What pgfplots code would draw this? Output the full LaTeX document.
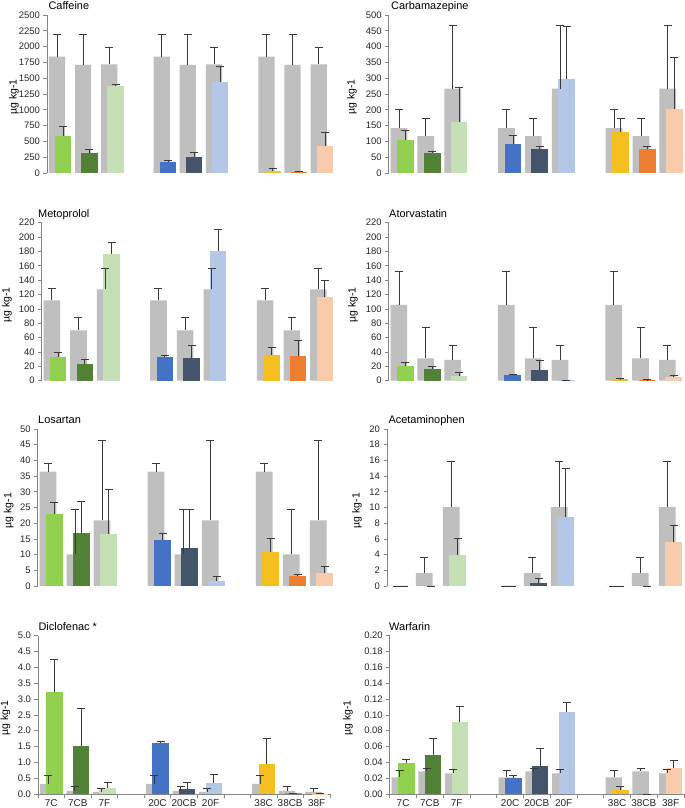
\documentclass[border=0pt]{standalone}
\usepackage{fontspec}
\setmainfont{Liberation Sans}
\usepackage{pgfplots}
\usepackage{pgfplotstable}
\pgfplotsset{compat=1.18}

\definecolor{gbar}{HTML}{BFBFBF}
\definecolor{cA}{HTML}{92D050}
\definecolor{cB}{HTML}{538135}
\definecolor{cC}{HTML}{C5E0B4}
\definecolor{cD}{HTML}{4472C4}
\definecolor{cE}{HTML}{44546A}
\definecolor{cF}{HTML}{B4C7E7}
\definecolor{cG}{HTML}{F5BF1F}
\definecolor{cH}{HTML}{ED7D31}
\definecolor{cI}{HTML}{F8CBAD}
\definecolor{axgrey}{HTML}{868686}
\definecolor{errc}{HTML}{3A3A3A}

% columns: x, grey value, grey error, coloured value, coloured error
\pgfplotstableread{
x g ge c ce
0 1840 350 590 140
1 1710 480 316 60
2 1720 262 1372 25
4 1840 350 178 22
5 1710 480 247 85
6 1720 262 1440 245
8 1840 350 32 36
9 1710 480 16 8
10 1720 262 425 215
}\tCaf
\pgfplotstableread{
x g ge c ce
0 142 60 105 30
1 117 57 64 4
2 267 200 160 110
4 142 60 93 27
5 117 57 77 6
6 267 200 299 165
8 142 60 131 43
9 117 57 76 8
10 267 200 203 162
}\tCarb
\pgfplotstableread{
x g ge c ce
0 112 16 33 7
1 70 18 23 6
2 127 29 177 16
4 112 16 33 2
5 70 18 32 17
6 127 29 181 29
8 112 16 36 10
9 70 18 34 22
10 127 29 117 23
}\tMeto
\pgfplotstableread{
x g ge c ce
0 105.5 47 21 4
1 31 43 16.5 3.5
2 29 20 6.5 5
4 105.5 47 7.4 1.4
5 31 43 15 13
6 29 20 0.5 0.5
8 105.5 47 2 1
9 31 43 1 0.5
10 29 20 4.5 2.5
}\tAtor
\pgfplotstableread{
x g ge c ce
0 36.4 2.5 23 3.6
1 10.1 14.3 17 9.9
2 20.9 25.6 16.7 14.2
4 36.4 2.5 14.6 2.2
5 10.1 14.3 12.2 12.1
6 20.9 25.6 1.7 1.4
8 36.4 2.5 10.7 4.6
9 10.1 14.3 3.2 0.6
10 20.9 25.6 4.1 2.0
}\tLos
\pgfplotstableread{
x g ge c ce
0 0 0 0 0
1 1.65 1.95 0 0
2 10.05 5.85 3.9 2.1
4 0 0 0 0
5 1.65 1.95 0.35 0.6
6 10.05 5.85 8.75 6.25
8 0 0 0 0
9 1.65 1.95 0 0
10 10.05 5.85 5.6 2.1
}\tAcet
\pgfplotstableread{
x g ge c ce
0 0.32 0.28 3.23 1.01
1 0.10 0.13 1.53 1.17
2 0.07 0.12 0.19 0.17
4 0.32 0.28 1.60 0.06
5 0.10 0.13 0.15 0.21
6 0.07 0.12 0.35 0.26
8 0.32 0.28 0.96 0.79
9 0.10 0.13 0.02 0.01
10 0.07 0.12 0.01 0.01
}\tDic
\pgfplotstableread{
x g ge c ce
0 0.021 0.0085 0.0396 0.0042
1 0.0286 0.0038 0.049 0.021
2 0.026 0.005 0.0914 0.0196
4 0.021 0.0085 0.0198 0.0038
5 0.0286 0.0038 0.036 0.021
6 0.026 0.005 0.104 0.012
8 0.021 0.0085 0.0055 0.0045
9 0.0286 0.0038 0 0
10 0.026 0.005 0.0324 0.0101
}\tWar

\pgfplotsset{
  errstyle/.style={error bars/.cd, y dir=plus, y explicit,
    error bar style={draw=errc, line width=0.8bp},
    error mark options={draw=errc, line width=0.8bp, mark size=4bp, rotate=90}},
  ylab/.style={ylabel style={at={([xshift=-#1]axis description cs:0,0.48)}}},
  panel/.style={
    scale only axis, xmin=-0.5, xmax=10.5, ymin=0,
    axis y line*=left, axis x line*=bottom,
    x axis line style={draw=none}, xtick=\empty,
    y axis line style={draw=axgrey, line width=0.6bp},
    ytick style={draw=axgrey, line width=0.6bp},
    tick align=outside, major tick length=3.5bp,
    yticklabel style={font=\fontsize{9.5}{10}\selectfont, text=black!85},
    /pgf/number format/assume math mode=true,
    /pgf/number format/1000 sep={},
    scaled y ticks=false,
    clip=false,
    title style={at={(0,1)}, anchor=base west, yshift=-0.8bp, font=\fontsize{11}{12}\selectfont},
    ylabel={µg kg-1},
    ylabel style={anchor=center, font=\fontsize{10.5}{11}\selectfont},
  },
  bottompanel/.style={
    x axis line style={draw=axgrey, line width=0.6bp},
    xtick={0,1,2,4,5,6,8,9,10},
    xticklabels={7C,7CB,7F,20C,20CB,20F,38C,38CB,38F},
    major x tick style={draw=none},
    minor xtick={-0.5,0.5,1.5,2.5,3.5,4.5,5.5,6.5,7.5,8.5,9.5,10.5},
    minor x tick style={draw=axgrey, line width=0.6bp},
    minor tick length=4bp,
    xticklabel style={font=\fontsize{10}{10}\selectfont, text=black!85, anchor=north, yshift=-0.6bp, inner sep=1bp},
  },
}

\newcommand\cbar[3]{\addplot[ybar, bar width=0.62, bar shift=0.12, fill=#2, draw=none, restrict x to domain=#3:#3] table[x=x,y=c]{#1};}
\newcommand\drawpanel[1]{%
  \addplot[ybar, bar width=0.62, bar shift=-0.12, fill=gbar, draw=none] table[x=x,y=g]{#1};
  \cbar{#1}{cA}{0}
  \cbar{#1}{cB}{1}
  \cbar{#1}{cC}{2}
  \cbar{#1}{cD}{4}
  \cbar{#1}{cE}{5}
  \cbar{#1}{cF}{6}
  \cbar{#1}{cG}{8}
  \cbar{#1}{cH}{9}
  \cbar{#1}{cI}{10}
  \addplot[draw=none, mark=none, errstyle] table[x expr=\thisrow{x}-0.12, y=g, y error=ge]{#1};
  \addplot[draw=none, mark=none, errstyle] table[x expr=\thisrow{x}+0.12, y=c, y error=ce]{#1};
}

\begin{document}
\begin{tikzpicture}
\useasboundingbox (0,0) rectangle (685bp,808bp);

% Row 1
\begin{axis}[panel, at={(47bp,635bp)}, anchor=south west, width=288bp, height=158bp,
  ymax=2500, ytick={0,250,500,750,1000,1250,1500,1750,2000,2250,2500},
  title={Caffeine}, title style={xshift=-2bp}, ylab=33bp]
\drawpanel{\tCaf}
\end{axis}
\begin{axis}[panel, at={(388.7bp,635bp)}, anchor=south west, width=295.8bp, height=158bp,
  ymax=500, ytick={0,50,100,150,200,250,300,350,400,450,500},
  title={Carbamazepine}, title style={xshift=-1bp}, ylab=36.7bp]
\drawpanel{\tCarb}
\end{axis}

% Row 2
\begin{axis}[panel, at={(41.7bp,427.3bp)}, anchor=south west, width=293.3bp, height=158bp,
  ymax=220, ytick={0,20,40,60,80,100,120,140,160,180,200,220},
  title={Metoprolol}, title style={xshift=-7bp}, ylab=34.7bp]
\drawpanel{\tMeto}
\end{axis}
\begin{axis}[panel, at={(388.7bp,427.3bp)}, anchor=south west, width=295.3bp, height=158bp,
  ymax=220, ytick={0,20,40,60,80,100,120,140,160,180,200,220},
  title={Atorvastatin}, title style={xshift=-3bp}, ylab=35.7bp]
\drawpanel{\tAtor}
\end{axis}

% Row 3
\begin{axis}[panel, at={(37.7bp,222bp)}, anchor=south west, width=297.3bp, height=157bp,
  ymax=50, ytick={0,5,10,15,20,25,30,35,40,45,50},
  title={Losartan}, title style={xshift=-3bp}, ylab=29bp]
\drawpanel{\tLos}
\end{axis}
\begin{axis}[panel, at={(387bp,222bp)}, anchor=south west, width=297bp, height=157bp,
  ymax=20, ytick={0,2,4,6,8,10,12,14,16,18,20},
  title={Acetaminophen}, title style={xshift=-2bp}, ylab=30bp]
\drawpanel{\tAcet}
\end{axis}

% Row 4
\begin{axis}[panel, bottompanel, at={(38bp,14bp)}, anchor=south west, width=292bp, height=158.3bp,
  ymax=5, ytick={0,0.5,1,1.5,2,2.5,3,3.5,4,4.5,5},
  yticklabel style={/pgf/number format/.cd, fixed, fixed zerofill, precision=1},
  title={Diclofenac *}, title style={xshift=-3bp}, ylab=32.5bp]
\drawpanel{\tDic}
\end{axis}
\begin{axis}[panel, bottompanel, at={(389.7bp,14bp)}, anchor=south west, width=294.3bp, height=158.3bp,
  ymax=0.2, ytick={0,0.02,0.04,0.06,0.08,0.1,0.12,0.14,0.16,0.18,0.2},
  yticklabel style={/pgf/number format/.cd, fixed, fixed zerofill, precision=2},
  title={Warfarin}, title style={xshift=-4bp}, ylab=41.7bp]
\drawpanel{\tWar}
\end{axis}
\end{tikzpicture}
\end{document}
